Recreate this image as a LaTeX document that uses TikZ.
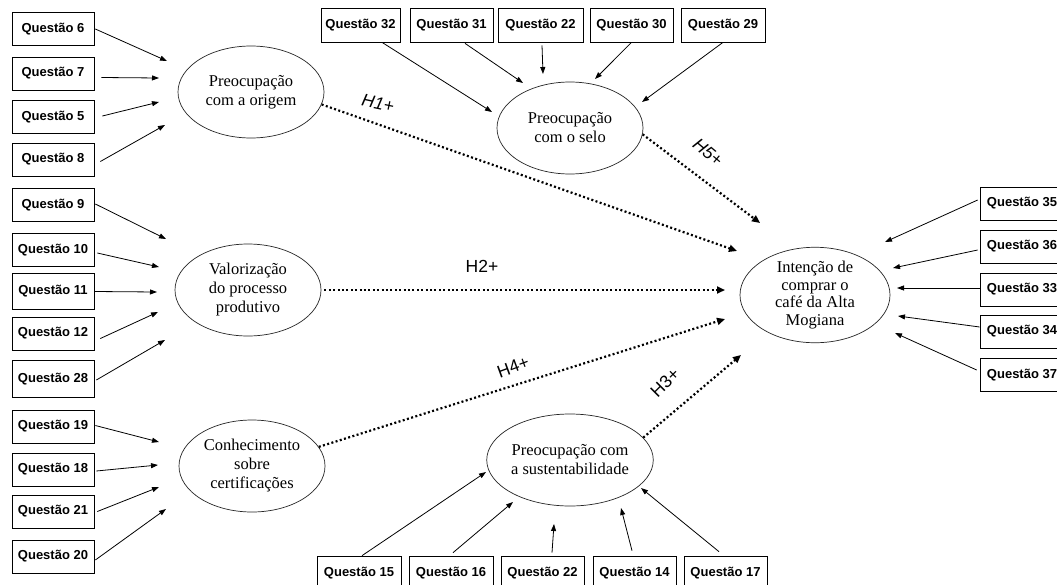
\documentclass[tikz,border=0pt]{standalone}
\usepackage{fontspec}
\setmainfont{Liberation Serif}
\newfontfamily\arialfont{Liberation Sans}
\usetikzlibrary{shapes.geometric,arrows.meta}
\tikzset{
  x=1pt,y=-1pt,
  qbox/.style={draw=black,line width=0.7pt,minimum width=82pt,minimum height=33pt,inner sep=0pt,
    font=\arialfont\bfseries\fontsize{13}{15}\selectfont},
  latent/.style={draw=black!85,line width=0.7pt,shape=ellipse,minimum width=146pt,minimum height=92pt,
    inner sep=0pt,align=center,font=\fontsize{16.5}{19}\selectfont},
  solarr/.style={line width=0.8pt,-{Triangle[length=7pt,width=5pt]}},
  dotarr/.style={line width=2.2pt,dash pattern=on 2pt off 2.4pt,-{Triangle[length=8pt,width=7pt]}},
  hlab/.style={font=\arialfont\fontsize{17.5}{20}\selectfont,inner sep=0pt},
  hlabi/.style={font=\arialfont\itshape\fontsize{17.5}{20}\selectfont,inner sep=0pt}
}
\begin{document}
\begin{tikzpicture}
\useasboundingbox (0,0) rectangle (1057,584);
\clip (0,0) rectangle (1057,584);
\fill[white] (0,0) rectangle (1057,584);

% latent variables
\node[latent] (origem) at (251,92) {Preocupação\\com a origem};
\node[latent] (valor) at (248,290) {Valorização\\do processo\\produtivo};
\node[latent] (conhec) at (252,466) {Conhecimento\\sobre\\certificações};
\node[latent] (selo) at (570,128) {Preocupação\\com o selo};
\node[latent] (sust) at (570,460) {Preocupação com\\a sustentabilidade};
\node[latent,minimum width=150pt,minimum height=90pt,font=\fontsize{16.5}{17.5}\selectfont] (intencao) at (815,295) {Intenção de\\comprar o\\café da Alta\\Mogiana};

% left boxes
\node[qbox] (q6) at (53,29) {Questão 6};
\node[qbox] (q7) at (53,73.5) {Questão 7};
\node[qbox] (q5) at (53,117) {Questão 5};
\node[qbox] (q8) at (53,159.5) {Questão 8};
\node[qbox] (q9) at (53,205) {Questão 9};
\node[qbox] (q10) at (53,250) {Questão 10};
\node[qbox,minimum height=36pt] (q11) at (53,291.5) {Questão 11};
\node[qbox] (q12) at (53,333.5) {Questão 12};
\node[qbox,minimum height=37pt] (q28) at (53,379) {Questão 28};
\node[qbox] (q19) at (53,426.5) {Questão 19};
\node[qbox] (q18) at (53,469.5) {Questão 18};
\node[qbox] (q21) at (53,511.5) {Questão 21};
\node[qbox] (q20) at (53,556.5) {Questão 20};

% top boxes
\node[qbox,minimum width=79pt,minimum height=34pt] (q32) at (360.5,25) {Questão 32};
\node[qbox,minimum width=83pt,minimum height=34pt] (q31) at (451.5,25) {\raisebox{3pt}{Questão 31}};
\node[qbox,minimum width=85pt,minimum height=34pt] (q22a) at (540.5,25) {\raisebox{3pt}{Questão 22}};
\node[qbox,minimum width=83pt,minimum height=34pt] (q30) at (631.5,25) {Questão 30};
\node[qbox,minimum width=84pt,minimum height=34pt] (q29) at (723,25) {Questão 29};

% bottom boxes
\node[qbox,minimum width=84pt,minimum height=34pt] (q15) at (359,573) {Questão 15};
\node[qbox,minimum width=84pt,minimum height=34pt] (q16) at (451,573) {Questão 16};
\node[qbox,minimum width=83pt,minimum height=34pt] (q22b) at (542.5,573) {\raisebox{3pt}{Questão 22}};
\node[qbox,minimum width=83pt,minimum height=34pt] (q14) at (634.5,573) {Questão 14};
\node[qbox,minimum width=83pt,minimum height=34pt] (q17) at (725.5,573) {\raisebox{3pt}{Questão 17}};

% right boxes
\node[qbox,minimum width=84pt] (q35) at (1022,203.5) {Questão 35};
\node[qbox,minimum width=84pt] (q36) at (1022,246.5) {Questão 36};
\node[qbox,minimum width=84pt] (q33) at (1022,289.5) {Questão 33};
\node[qbox,minimum width=84pt] (q34) at (1022,331.5) {Questão 34};
\node[qbox,minimum width=84pt] (q37) at (1022,375) {Questão 37};

% arrow end coordinates
\coordinate (l6) at (167,61);
\coordinate (l7) at (159,78);
\coordinate (l5) at (159,102);
\coordinate (l8) at (165,125);
\coordinate (l9) at (166,239);
\coordinate (l10) at (159,267);
\coordinate (l11) at (157,292);
\coordinate (l12) at (158,312);
\coordinate (l28) at (165,340);
\coordinate (l19) at (159,442);
\coordinate (l18) at (158,465);
\coordinate (l21) at (159,487);
\coordinate (l20) at (166,509);
\coordinate (t32) at (492,112);
\coordinate (t31) at (523,83);
\coordinate (t22) at (543,74);
\coordinate (t30) at (595,79);
\coordinate (t29) at (642,102);
\coordinate (r35) at (885,242);
\coordinate (r36) at (893,268);
\coordinate (r33) at (897,288);
\coordinate (r34) at (898,316);
\coordinate (r37) at (895,333);
\coordinate (b15) at (486,472);
\coordinate (b16) at (513,502);
\coordinate (b22) at (554,524);
\coordinate (b14) at (621,508);
\coordinate (b17) at (641,488);
\coordinate (e1) at (737,251);
\coordinate (e5) at (760,223);
\coordinate (e2) at (725,290);
\coordinate (e4) at (725,319);
\coordinate (e3) at (741,355);

% left arrows
\draw[solarr] ([xshift=1pt]q6.east) -- (l6);
\draw[solarr] ([xshift=7pt,yshift=-4pt]q7.east) -- (l7);
\draw[solarr] ([xshift=8pt,yshift=1pt]q5.east) -- (l5);
\draw[solarr] ([xshift=6pt,yshift=-2pt]q8.east) -- (l8);
\draw[solarr] ([xshift=1pt,yshift=1pt]q9.east) -- (l9);
\draw[solarr] ([xshift=3pt,yshift=-3pt]q10.east) -- (l10);
\draw[solarr] (q11.east) -- (l11);
\draw[solarr] ([xshift=6pt,yshift=-5pt]q12.east) -- (l12);
\draw[solarr] ([xshift=2pt,yshift=-1pt]q28.east) -- (l28);
\draw[solarr] ([xshift=1pt,yshift=1pt]q19.east) -- (l19);
\draw[solarr] ([xshift=2pt,yshift=-1.5pt]q18.east) -- (l18);
\draw[solarr] ([xshift=3pt]q21.east) -- (l21);
\draw[solarr] ([xshift=1pt,yshift=-3.5pt]q20.east) -- (l20);

% top arrows
\draw[solarr] ([xshift=21.5pt]q32.south) -- (t32);
\draw[solarr] ([xshift=13.5pt,yshift=-1pt]q31.south) -- (t31);
\draw[solarr] ([xshift=1.5pt,yshift=-3pt]q22a.south) -- (t22);
\draw[solarr] (q30.south) -- (t30);
\draw[solarr] (q29.south) -- (t29);

% bottom arrows
\draw[solarr] ([xshift=3pt]q15.north) -- (b15);
\draw[solarr] ([xshift=2pt,yshift=3pt]q16.north) -- (b16);
\draw[solarr] ([xshift=9.5pt,yshift=3pt]q22b.north) -- (b22);
\draw[solarr] ([xshift=-2.5pt,yshift=5pt]q14.north) -- (b14);
\draw[solarr] ([xshift=-6.5pt,yshift=4pt]q17.north) -- (b17);

% right arrows
\draw[solarr] ([xshift=-2pt,yshift=3.5pt]q35.west) -- (r35);
\draw[solarr] ([xshift=-2pt,yshift=-3.5pt]q36.west) -- (r36);
\draw[solarr] ([yshift=1.5pt]q33.west) -- (r33);
\draw[solarr] ([yshift=4.5pt]q34.west) -- (r34);
\draw[solarr] ([xshift=-3pt,yshift=5pt]q37.west) -- (r37);

% hypotheses
\draw[dotarr] (origem.-10) -- (e1);
\draw[dotarr] (selo.-5) -- (e5);
\draw[dotarr] ([xshift=3pt]valor.east) -- (e2);
\draw[dotarr] (conhec.16) -- (e4);
\draw[dotarr] (sust.17) -- (e3);

\node[hlabi,rotate=-12] (h1) at (378,103) {H1+};
\node[hlabi,rotate=-40] (h5) at (708,152) {H5+};
\node[hlab] (h2) at (482,266) {H2+};
\node[hlab,rotate=20] (h4) at (513,367) {H4+};
\node[hlab,rotate=45] (h3) at (665,383) {H3+};
\end{tikzpicture}
\end{document}
